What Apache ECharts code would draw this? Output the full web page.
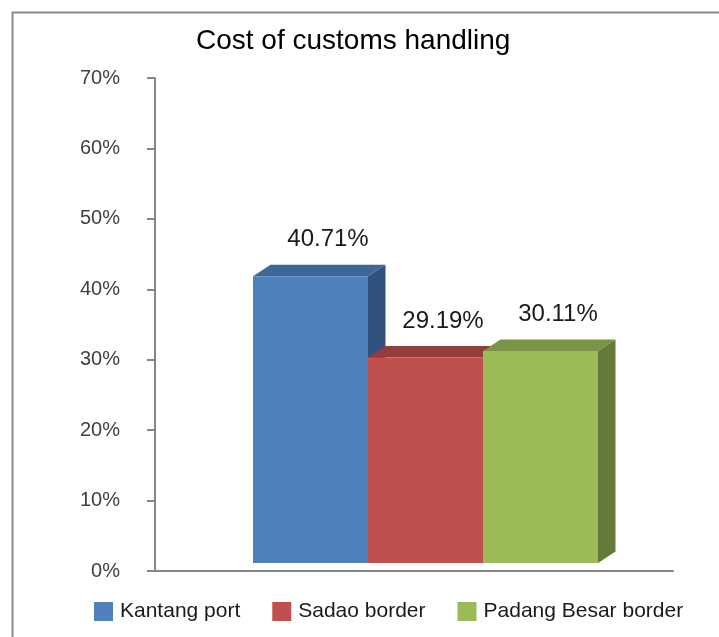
<!DOCTYPE html>
<html>
<head>
<meta charset="utf-8">
<script src="https://cdn.jsdelivr.net/npm/echarts@6/dist/echarts.min.js"></script>
<style>html,body{margin:0;padding:0;background:#fff;}#c{width:719px;height:637px;}</style>
</head>
<body>
<div id="c"></div>
<script>
const chartTitle = 'Cost of customs handling';
const seriesNames = ['Kantang port', 'Sadao border', 'Padang Besar border'];
const seriesValues = [40.71, 29.19, 30.11];
const yTicks = [0, 10, 20, 30, 40, 50, 60, 70];

const frontColors = ['#4F81BD', '#C0504D', '#9BBB59'];
const topColors = ['#3E6699', '#943D3A', '#7A9446'];
const sideColors = ['#32527E', '#7A3330', '#647A38'];

const BAR_W = 115, DX = 17.5, DY = -11.5, LIFT = 8, GROUP_OFF = -161;

function makeRender(idx) {
  return function (params, api) {
    const v = api.value(1);
    const p = api.coord([0, v]);
    const p0 = api.coord([0, 0]);
    const x0 = p[0] + GROUP_OFF + idx * BAR_W;
    const x1 = x0 + BAR_W;
    const yT = p[1] - LIFT;
    const yB = p0[1] - LIFT;
    return {
      type: 'group',
      children: [
        { type: 'polygon', shape: { points: [[x1, yT], [x1 + DX, yT + DY], [x1 + DX, yB + DY], [x1, yB]] }, style: { fill: sideColors[idx] } },
        { type: 'polygon', shape: { points: [[x0, yT], [x0 + DX, yT + DY], [x1 + DX, yT + DY], [x1, yT]] }, style: { fill: topColors[idx] } },
        { type: 'rect', shape: { x: x0, y: yT, width: BAR_W, height: yB - yT }, style: { fill: frontColors[idx] } },
        { type: 'text', x: (x0 + x1) / 2 + DX, y: yT + DY - 25,
          style: { text: v.toFixed(2) + '%', fill: '#1a1a1a', font: '24px "Liberation Sans", Arial, sans-serif', align: 'center', verticalAlign: 'middle' } }
      ]
    };
  };
}

const chart = echarts.init(document.getElementById('c'), null, { renderer: 'canvas' });
chart.setOption({
  animation: false,
  backgroundColor: '#fff',
  graphic: [{ type: 'rect', left: 10, top: 10, shape: { width: 740, height: 660 }, style: { fill: 'none', stroke: '#8a8a8a', lineWidth: 2 }, z: -1 }],
  title: {
    text: chartTitle, left: 196, top: 27, padding: 0,
    textStyle: { fontSize: 28, fontWeight: 'normal', color: '#000', fontFamily: '"Liberation Sans", Arial, sans-serif' }
  },
  legend: {
    data: seriesNames, left: 89, top: 596, itemWidth: 19, itemHeight: 19, itemGap: 32, icon: 'rect',
    textStyle: { fontSize: 21, color: '#1a1a1a', fontFamily: '"Liberation Sans", Arial, sans-serif', padding: [0, 0, 0, 2] }
  },
  grid: { left: 155, right: 46, top: 78, bottom: 66 },
  xAxis: {
    type: 'category', data: [chartTitle],
    axisLine: { lineStyle: { color: '#868686', width: 2 } },
    axisTick: { show: false }, axisLabel: { show: false }, splitLine: { show: false }
  },
  yAxis: {
    type: 'value', min: yTicks[0], max: yTicks[yTicks.length - 1], interval: 10,
    axisLine: { show: true, lineStyle: { color: '#868686', width: 2 } },
    axisTick: { show: true, length: 8, lineStyle: { color: '#868686', width: 2 } },
    splitLine: { show: false },
    axisLabel: { formatter: '{value}%', fontSize: 20, color: '#404040', margin: 35, fontFamily: '"Liberation Sans", Arial, sans-serif' }
  },
  series: seriesNames.map((name, i) => ({
    type: 'custom', name: name,
    itemStyle: { color: frontColors[i] },
    renderItem: makeRender(i),
    data: [[0, seriesValues[i]]],
    encode: { x: 0, y: 1 }
  }))
});
</script>
</body>
</html>
